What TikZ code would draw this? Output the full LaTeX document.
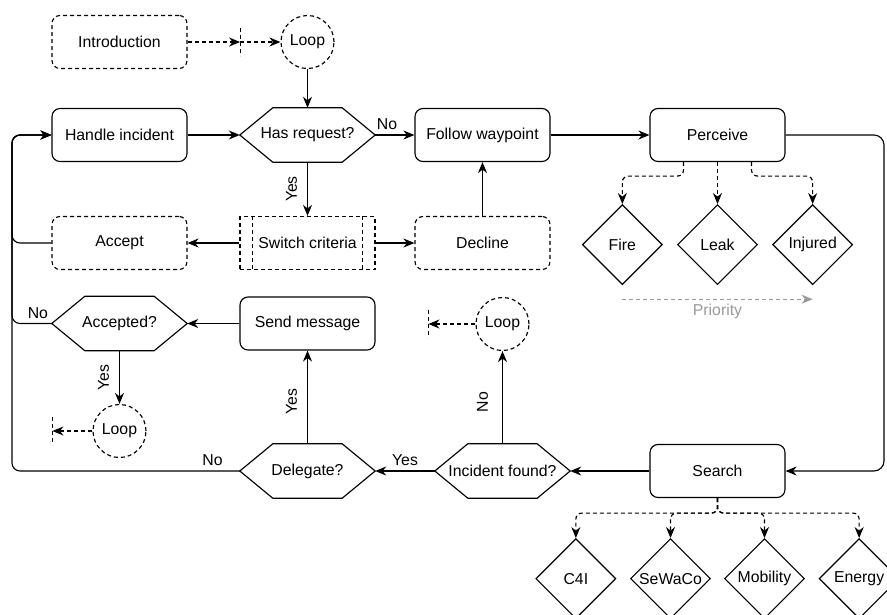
\documentclass[tikz,border=0pt]{standalone}
\usepackage{fontspec}
\setmainfont{Liberation Sans}
\usepackage{tikz}
\usetikzlibrary{positioning}
\usetikzlibrary{shapes.geometric}
\usetikzlibrary{arrows.meta}
\colorlet{Prio}{black!40}
\tikzset{
  thk/.style={line width=1.15pt},
  dsh/.style={dash pattern=on 4pt off 3pt},
  arr/.style={thk, -{Stealth[length=11pt,width=9pt,inset=3.5pt]}},
  darr/.style={arr, dsh},
  rbox/.style={thk, draw, rounded corners=8pt, minimum width=135pt, minimum height=53pt, inner sep=0pt},
  drbox/.style={rbox, dsh},
  procbox/.style={thk, draw, dsh, minimum width=135pt, minimum height=53pt, inner sep=0pt,
    append after command={\pgfextra{
      \draw[thk, dsh] ([xshift=13pt]\tikzlastnode.north west) -- ([xshift=13pt]\tikzlastnode.south west);
      \draw[thk, dsh] ([xshift=-13pt]\tikzlastnode.north east) -- ([xshift=-13pt]\tikzlastnode.south east);}}},
  hexa/.style={minimum width=135pt, minimum height=54pt, inner sep=0pt,
    append after command={\pgfextra{
      \draw[thk, line join=miter] (\tikzlastnode.west) -- ([xshift=33pt]\tikzlastnode.north west)
        -- ([xshift=-33pt]\tikzlastnode.north east) -- (\tikzlastnode.east)
        -- ([xshift=-33pt]\tikzlastnode.south east) -- ([xshift=33pt]\tikzlastnode.south west) -- cycle;}}},
  loopc/.style={thk, draw, dsh, circle, minimum size=53pt, inner sep=0pt},
  stub/.style={minimum width=0pt, minimum height=28pt, inner sep=0pt, outer sep=0pt,
    append after command={\pgfextra{
      \draw[thk, dsh] (\tikzlastnode.north) -- (\tikzlastnode.south);}}},
  cat/.style={thk, draw, diamond, minimum size=80pt, inner sep=0pt},
  prio/.style={thk, dsh, draw=Prio, -{Stealth[length=11pt,width=9pt,inset=3.5pt]}},
  vyes/.style={rotate=90, anchor=south, inner ysep=10pt},
  vno/.style={rotate=90, anchor=south, inner ysep=14pt},
}

\begin{document}
\begin{tikzpicture}[x=1pt, y=-1pt, font=\fontsize{15.8}{19}\selectfont]
        \useasboundingbox (0,0) rectangle (887,614);

        % flow nodes
        \node[drbox] (intro) at (119.5,42) {Introduction};
        \node[stub, right=52.5pt of intro] (s1) {};
        \node[loopc] (lp1) at (307.5,42) {Loop};
        \node[rbox] (hinc) at (119.5,135) {Handle incident};
        \node[hexa] (req) at (307.5,135) {Has request?};
        \node[rbox] (wayp) at (482.5,135) {Follow waypoint};
        \node[rbox] (perc) at (717.5,135) {Perceive};
        \node[drbox] (acc) at (119.5,243) {Accept};
        \node[procbox] (sw) at (307.5,243) {Switch criteria};
        \node[drbox] (dec) at (482.5,243) {Decline};
        \node[hexa] (okq) at (119.5,323.5) {Accepted?};
        \node[rbox] (msg) at (307.5,323.5) {Send message};
        \node[loopc] (lp3) at (119.5,431) {Loop};
        \node[stub, left=40pt of lp3] (s3) {};
        \node[loopc] (lp2) at (502.5,324) {Loop};
        \node[stub, left=47pt of lp2] (s2) {};
        \node[hexa] (dlg) at (307.5,471) {Delegate?};
        \node[hexa] (fnd) at (502.5,471) {Incident found?};
        \node[rbox] (srch) at (717.5,471) {Search};
        \coordinate (lrail) at (12,300);
        \coordinate (rrail) at (884,300);

        % perceive and search kinds
        \node[cat, below=42pt of perc] (leak) {Leak};
        \node[cat, left=14pt of leak] (fire) {Fire};
        \node[cat, right=14pt of leak] (inj) {Injured};
        \node[cat, below=40pt of srch, xshift=-47pt] (sewaco) {SeWaCo};
        \node[cat, left=13.5pt of sewaco] (c4i) {C4I};
        \node[cat, below=40pt of srch, xshift=47pt] (mob) {Mobility};
        \node[cat, right=13.5pt of mob] (enrg) {Energy};
        \coordinate (pr1) at ([yshift=-14pt]fire.south);
        \coordinate (pr2) at ([yshift=-14pt]inj.south);

        % edges
        \draw[darr] (intro) -- (s1);
        \draw[darr] (s1) -- (lp1);
        \draw[arr] (lp1.south) -- (req.north);
        \draw[arr] (hinc.east) -- (req.west);
        \draw[arr] (req.east) -- (wayp.west) node[pos=0.3, above=1pt] {No};
        \draw[arr] (wayp.east) -- (perc.west);
        \draw[arr] (req.south) -- (sw.north) node[pos=0.5, vyes] {Yes};
        \draw[arr] (sw.west) -- (acc.east);
        \draw[arr] (sw.east) -- (dec.west);
        \draw[arr] (dec.north) -- (wayp.south);
        \draw[arr, rounded corners=8pt] (acc.west) -- (acc.west -| lrail) |- (hinc.west);
        \draw[arr, rounded corners=8pt] (okq.west) -- (okq.west -| lrail) node[pos=0.35, above=1pt] {No} |- (hinc.west);
        \draw[arr, rounded corners=8pt] (dlg.west) -- (dlg.west -| lrail) node[pos=0.12, above=1pt] {No} |- (hinc.west);
        \draw[arr] (msg.west) -- (okq.east);
        \draw[arr] (okq.south) -- (lp3.north) node[pos=0.5, vyes] {Yes};
        \draw[darr] (lp3.west) -- (s3);
        \draw[arr] (dlg.north) -- (msg.south) node[pos=0.45, vyes] {Yes};
        \draw[arr] (fnd.west) -- (dlg.east) node[pos=0.5, above=1pt] {Yes};
        \draw[arr] (fnd.north) -- (lp2.south) node[pos=0.45, vno] {No};
        \draw[darr] (lp2.west) -- (s2);
        \draw[arr] (srch.west) -- (fnd.east);
        \draw[arr, rounded corners=10pt] (perc.east) -- (perc.east -| rrail) |- (srch.east);

        % dashed branches
        \draw[darr, rounded corners=6pt] ([xshift=-34pt]perc.south) -- ++(0,14) -| (fire.north);
        \draw[darr] (perc.south) -- (leak.north);
        \draw[darr, rounded corners=6pt] ([xshift=34pt]perc.south) -- ++(0,14) -| (inj.north);
        \draw[darr, rounded corners=6pt] (srch.south) -- ++(0,15) -| (c4i.north);
        \draw[darr, rounded corners=6pt] (srch.south) -- ++(0,15) -| (sewaco.north);
        \draw[darr, rounded corners=6pt] (srch.south) -- ++(0,15) -| (mob.north);
        \draw[darr, rounded corners=6pt] (srch.south) -- ++(0,15) -| (enrg.north);
        \draw[prio] (pr1) -- (pr2) node[midway, below=1pt, text=Prio] {Priority};
\end{tikzpicture}
\end{document}
